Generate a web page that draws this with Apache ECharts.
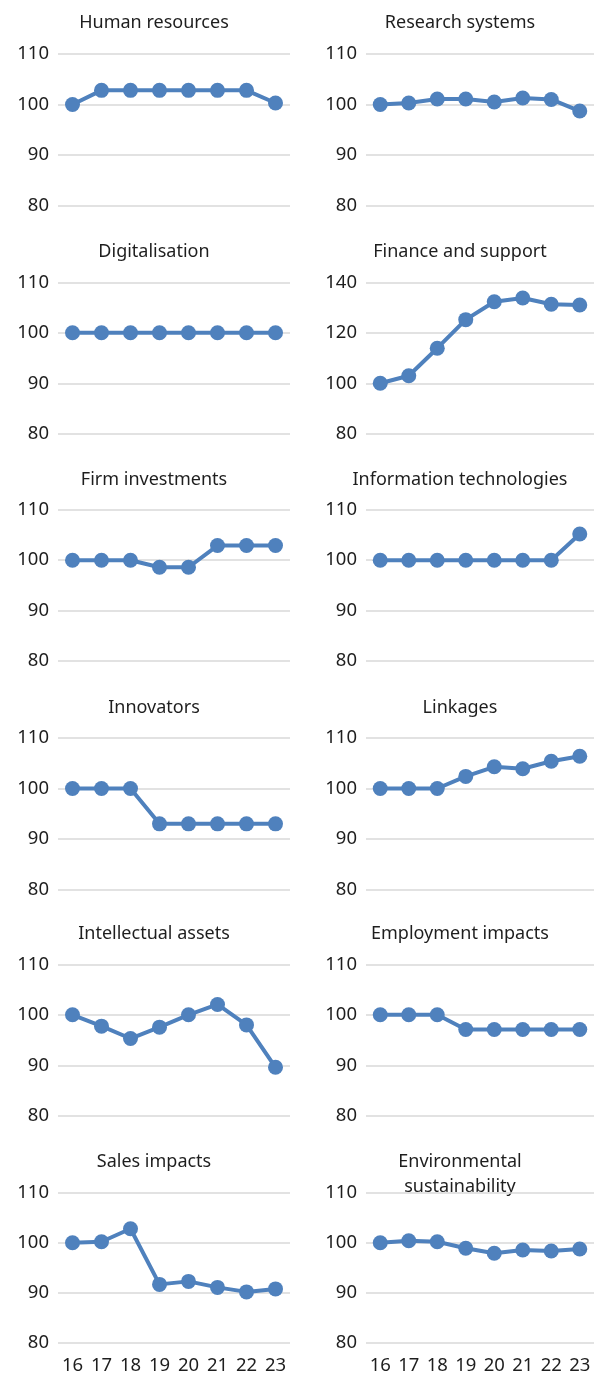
<!DOCTYPE html>
<html>
<head>
<meta charset="utf-8">
<script src="https://cdn.jsdelivr.net/npm/echarts@6/dist/echarts.min.js"></script>
<style>
  html, body { margin: 0; padding: 0; background: #fff; }
  #main { width: 594px; height: 1375px; }
</style>
</head>
<body>
<div id="main"></div>
<script>
var years = ['16', '17', '18', '19', '20', '21', '22', '23'];

var humanResources   = [100, 102.8, 102.8, 102.8, 102.8, 102.8, 102.8, 100.3];
var researchSystems  = [100, 100.3, 101.1, 101.1, 100.5, 101.3, 101.0, 98.7];
var digitalisation   = [100, 100, 100, 100, 100, 100, 100, 100];
var financeSupport   = [100, 103.0, 113.9, 125.2, 132.3, 133.8, 131.3, 131.0];
var firmInvestments  = [100, 100, 100, 98.6, 98.6, 102.9, 102.9, 102.9];
var infoTech         = [100, 100, 100, 100, 100, 100, 100, 105.2];
var innovators       = [100, 100, 100, 93.0, 93.0, 93.0, 93.0, 93.0];
var linkages         = [100, 100, 100, 102.4, 104.3, 103.9, 105.4, 106.4];
var intellectual     = [100, 97.75, 95.3, 97.55, 100, 102.05, 98.0, 89.6];
var employment       = [100, 100, 100, 97.1, 97.1, 97.1, 97.1, 97.1];
var salesImpacts     = [100, 100.2, 102.8, 91.7, 92.3, 91.1, 90.2, 90.8];
var environmental    = [100, 100.4, 100.2, 98.9, 97.9, 98.55, 98.35, 98.75];

var titles = ['Human resources', 'Research systems', 'Digitalisation', 'Finance and support',
  'Firm investments', 'Information technologies', 'Innovators', 'Linkages',
  'Intellectual assets', 'Employment impacts', 'Sales impacts', 'Environmental\nsustainability'];
var seriesData = [humanResources, researchSystems, digitalisation, financeSupport,
  firmInvestments, infoTech, innovators, linkages,
  intellectual, employment, salesImpacts, environmental];
var yMin = [80, 80, 80, 80, 80, 80, 80, 80, 80, 80, 80, 80];
var yMax = [110, 110, 110, 140, 110, 110, 110, 110, 110, 110, 110, 110];
var yStep = [10, 10, 10, 20, 10, 10, 10, 10, 10, 10, 10, 10];

// layout of the small multiples
var rowTops = [54, 282.3, 509.7, 738, 964.3, 1192.7];
var titleY = [23, 252, 480, 708, 934, 1162];
var panelH = 151.5;
var colLeft = [58, 366];
var colWidth = [232, 229];
var colTitleX = [154, 460];

var blue = '#4f81bd';
var textColor = '#1e1e1e';
var font = '"Noto Sans", sans-serif';

var grid = [], xAxis = [], yAxis = [], series = [], graphic = [];

for (var i = 0; i < 12; i++) {
  var row = Math.floor(i / 2), col = i % 2;
  grid.push({ left: colLeft[col], top: rowTops[row], width: colWidth[col], height: panelH });
  xAxis.push({
    type: 'category', gridIndex: i, data: years, boundaryGap: true,
    axisLine: { show: false }, axisTick: { show: false },
    axisLabel: { show: row === 5, color: textColor, fontSize: 18.5, fontFamily: font, margin: 13 }
  });
  yAxis.push({
    type: 'value', gridIndex: i, min: yMin[i], max: yMax[i], interval: yStep[i],
    axisLine: { show: false }, axisTick: { show: false },
    axisLabel: { color: textColor, fontSize: 18.5, fontFamily: font, margin: 9 },
    splitLine: { lineStyle: { color: '#d9d9d9', width: 1.5 } }
  });
  series.push({
    type: 'line', xAxisIndex: i, yAxisIndex: i, data: seriesData[i],
    symbol: 'circle', symbolSize: 15,
    lineStyle: { color: blue, width: 4 },
    itemStyle: { color: blue },
    animation: false
  });
  var isTwoLine = titles[i].indexOf('\n') >= 0;
  graphic.push({
    type: 'text', x: colTitleX[col], y: isTwoLine ? titleY[row] + 12.5 : titleY[row],
    style: {
      text: titles[i], align: 'center', verticalAlign: 'middle',
      font: '18px ' + font, fill: textColor, lineHeight: 25
    }
  });
}

var myChart = echarts.init(document.getElementById('main'));
myChart.setOption({
  backgroundColor: '#fff',
  animation: false,
  grid: grid,
  xAxis: xAxis,
  yAxis: yAxis,
  series: series,
  graphic: graphic
});
</script>
</body>
</html>
